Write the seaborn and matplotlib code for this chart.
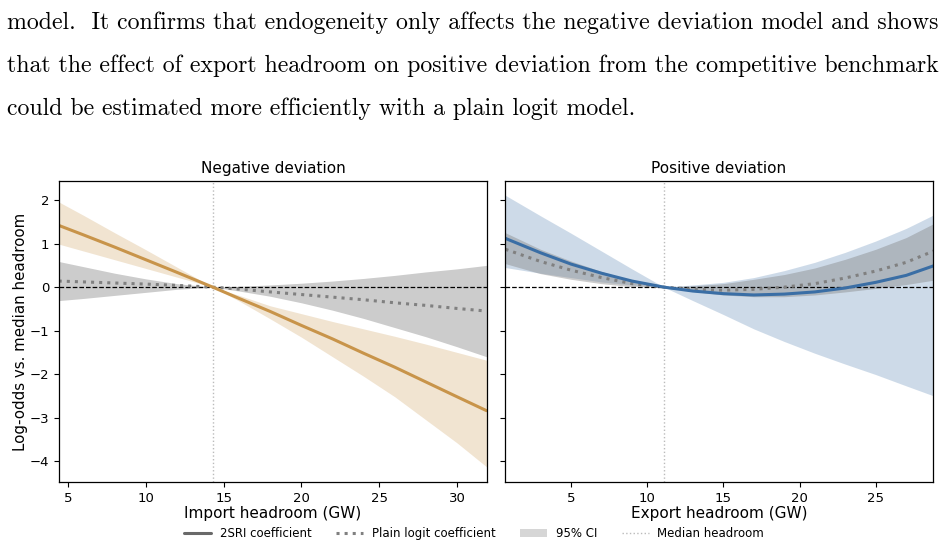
import numpy as np
import pandas as pd
import matplotlib
matplotlib.use("Agg")
import matplotlib.pyplot as plt
import seaborn as sns
from matplotlib.lines import Line2D
from matplotlib.patches import Patch

# ── PAGE TEXT ──────────────────────────────────────────
page_lines = [
    "model.  It confirms that endogeneity only affects the negative deviation model and shows",
    "that the effect of export headroom on positive deviation from the competitive benchmark",
    "could be estimated more efficiently with a plain logit model.",
]

# ── NEGATIVE DEVIATION (import headroom) ───────────────
imp_x = [4.4, 6, 8, 10, 12, 14.3, 16, 18, 20, 22, 24, 26, 28, 30, 31.9]
imp_median = 14.3
imp_2sri = [1.42, 1.20, 0.92, 0.63, 0.34, 0.0, -0.26, -0.56, -0.88, -1.19, -1.52, -1.84, -2.18, -2.52, -2.84]
imp_2sri_lo = [0.99, 0.83, 0.63, 0.43, 0.23, 0.0, -0.32, -0.73, -1.15, -1.60, -2.05, -2.52, -3.05, -3.58, -4.13]
imp_2sri_hi = [1.96, 1.65, 1.25, 0.86, 0.46, 0.0, -0.19, -0.43, -0.61, -0.79, -0.96, -1.13, -1.31, -1.50, -1.68]
imp_logit = [0.14, 0.12, 0.095, 0.07, 0.04, 0.0, -0.045, -0.11, -0.17, -0.23, -0.29, -0.36, -0.42, -0.49, -0.55]
imp_logit_lo = [-0.31, -0.26, -0.19, -0.12, -0.05, 0.0, -0.09, -0.21, -0.36, -0.53, -0.72, -0.93, -1.14, -1.37, -1.60]
imp_logit_hi = [0.59, 0.47, 0.32, 0.19, 0.08, 0.0, 0.02, 0.05, 0.09, 0.14, 0.20, 0.27, 0.35, 0.42, 0.50]

# ── POSITIVE DEVIATION (export headroom) ───────────────
exp_x = [0.7, 3, 5, 7, 9, 11.1, 13, 15, 17, 19, 21, 23, 25, 27, 28.8]
exp_median = 11.1
exp_2sri = [1.12, 0.79, 0.53, 0.32, 0.14, 0.0, -0.09, -0.15, -0.18, -0.16, -0.11, -0.02, 0.11, 0.27, 0.49]
exp_2sri_lo = [0.45, 0.32, 0.22, 0.12, 0.05, 0.0, -0.31, -0.63, -0.96, -1.25, -1.52, -1.77, -2.01, -2.27, -2.50]
exp_2sri_hi = [2.11, 1.64, 1.24, 0.83, 0.42, 0.0, 0.05, 0.11, 0.22, 0.38, 0.57, 0.80, 1.06, 1.35, 1.66]
exp_logit = [0.87, 0.59, 0.39, 0.22, 0.08, 0.0, -0.05, -0.07, -0.05, 0.0, 0.08, 0.21, 0.37, 0.57, 0.83]
exp_logit_lo = [0.54, 0.31, 0.18, 0.08, 0.01, 0.0, -0.10, -0.18, -0.22, -0.22, -0.18, -0.11, -0.03, 0.06, 0.16]
exp_logit_hi = [1.25, 0.87, 0.60, 0.36, 0.15, 0.0, 0.03, 0.08, 0.18, 0.29, 0.44, 0.64, 0.87, 1.14, 1.46]

orange = "#c8944a"
blue = "#3a6ea5"

sns.set_style("ticks", {"text.color": "black", "axes.labelcolor": "black",
                        "xtick.color": "black", "ytick.color": "black",
                        "axes.edgecolor": "black"})
plt.rcParams["font.family"] = ["DejaVu Sans"]

fig = plt.figure(figsize=(9.48, 5.45), dpi=100)
ax1 = fig.add_axes([59 / 948, 63 / 545, 428 / 948, 301 / 545])
ax2 = fig.add_axes([505 / 948, 63 / 545, 428 / 948, 301 / 545], sharey=ax1)

panels = [
    (ax1, imp_x, imp_2sri, imp_2sri_lo, imp_2sri_hi, imp_logit, imp_logit_lo, imp_logit_hi,
     imp_median, orange, "Negative deviation", "Import headroom (GW)", (4.42, 31.93), [5, 10, 15, 20, 25, 30]),
    (ax2, exp_x, exp_2sri, exp_2sri_lo, exp_2sri_hi, exp_logit, exp_logit_lo, exp_logit_hi,
     exp_median, blue, "Positive deviation", "Export headroom (GW)", (0.67, 28.76), [5, 10, 15, 20, 25]),
]

for ax, x, m, lo, hi, pl, pl_lo, pl_hi, med, col, title, xlab, xlim, xt in panels:
    df = pd.DataFrame({"x": x, "2sri": m, "logit": pl})
    ax.fill_between(x, lo, hi, color=col, alpha=0.25, linewidth=0)
    ax.fill_between(x, pl_lo, pl_hi, color="gray", alpha=0.4, linewidth=0)
    ax.axhline(0, color="black", linestyle="--", linewidth=0.9, zorder=1)
    ax.axvline(med, color="#bbbbbb", linestyle=":", linewidth=1, zorder=1)
    sns.lineplot(data=df, x="x", y="logit", ax=ax, color="gray", linestyle=":", linewidth=2.2)
    sns.lineplot(data=df, x="x", y="2sri", ax=ax, color=col, linewidth=2.2)
    ax.set_xlim(*xlim)
    ax.set_xticks(xt)
    ax.set_title(title, fontsize=11)
    ax.set_xlabel(xlab, fontsize=11, labelpad=1)
    ax.set_ylabel("")
    ax.tick_params(labelsize=9.5)
    for s in ax.spines.values():
        s.set_linewidth(0.9)

ax1.set_ylim(-4.48, 2.44)
ax1.set_yticks([-4, -3, -2, -1, 0, 1, 2])
ax1.set_ylabel("Log-odds vs. median headroom", fontsize=10.8, labelpad=1)
ax2.tick_params(labelleft=False)

handles = [
    Line2D([], [], color="dimgray", linewidth=2.2),
    Line2D([], [], color="gray", linestyle=":", linewidth=2.2),
    Patch(facecolor="#d6d6d6", edgecolor="none"),
    Line2D([], [], color="#bbbbbb", linestyle=":", linewidth=1),
]
labels = ["2SRI coefficient", "Plain logit coefficient", "95% CI", "Median headroom"]
fig.legend(handles, labels, loc="lower center", bbox_to_anchor=(0.5, -0.01), ncol=4,
           frameon=False, fontsize=8.5, columnspacing=2.1, handlelength=2.3,
           handletextpad=0.7)

# page text above the figure, stretched to the text block width
texts = []
for i, line in enumerate(page_lines):
    t = fig.text(7 / 948, 1 - (29 + 43 * i) / 545, line, family="cmr10",
                 fontsize=19, va="baseline", ha="left")
    texts.append(t)
fig.canvas.draw()
r = fig.canvas.get_renderer()
for t in texts[:2]:
    w = t.get_window_extent(r).width
    t.set_fontsize(19 * 933 / w)
texts[2].set_fontsize((texts[0].get_fontsize() + texts[1].get_fontsize()) / 2)

fig.savefig("out.png", dpi=100)
